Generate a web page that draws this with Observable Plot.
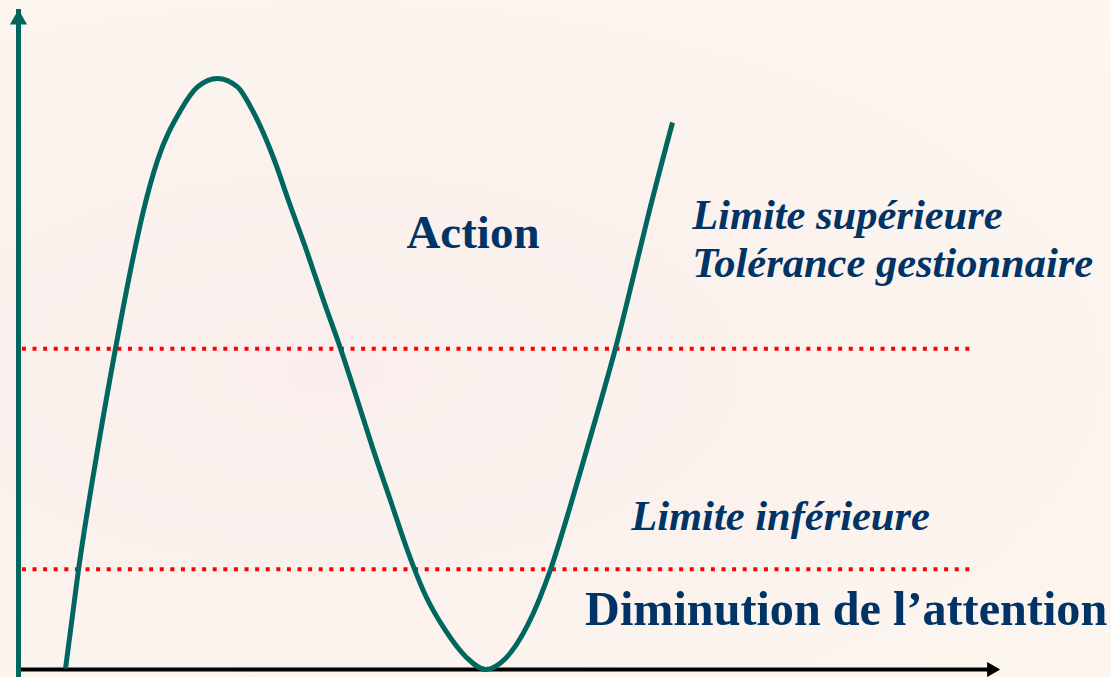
<!DOCTYPE html>
<html>
<head>
<meta charset="utf-8">
<script src="https://cdn.jsdelivr.net/npm/d3@7"></script>
<script src="https://cdn.jsdelivr.net/npm/@observablehq/plot@0.6"></script>
<style>
  html, body { margin: 0; padding: 0; }
  body {
    width: 1111px; height: 677px; overflow: hidden;
    background: radial-gradient(ellipse at 30% 55%, #f9eeeb 0%, #fbf2ee 45%, #fdf7ef 100%);
  }
  #chart svg { display: block; }
</style>
</head>
<body>
<div id="chart"></div>
<script>
// ---- data (time 0..100 along the horizontal axis, level 0..100 up the vertical axis)
const curveTime  = [4.79, 6.11, 8.04, 9.88, 11.61, 12.73, 14.15, 16.50, 18.23, 20.26, 22.30, 23.83, 26.07, 27.49, 29.33, 31.06, 32.79, 34.52, 36.15, 37.88, 39.61, 41.45, 43.48, 45.62, 47.56, 49.59, 51.83, 54.18, 56.21, 57.84, 59.37, 60.79, 62.02, 64.15, 66.60];
const curveLevel = [0.15, 15.15, 33.18, 48.64, 61.97, 69.55, 77.12, 84.70, 88.27, 89.55, 88.27, 84.70, 77.12, 71.06, 63.48, 55.91, 48.64, 40.76, 33.18, 25.61, 18.03, 11.21, 5.91, 1.82, 0, 1.67, 6.67, 15.15, 24.85, 33.18, 41.06, 48.64, 55.91, 68.94, 82.88];

const limitLevels = [48.6, 15.2];        // upper limit, lower limit
const limitSpan   = [0.4, 97.4];         // start / end of the limit lines

const axisTime  = [0, 100];              // horizontal axis extent
const axisLevel = [-1, 100];             // vertical axis extent

const boldLabels   = ["Action", "Diminution de l\u2019attention"];
const boldX        = [39.5, 57.7];
const boldY        = [63.9, 6.8];

const italicLabels = ["Limite supérieure", "Tolérance gestionnaire", "Limite inférieure"];
const italicX      = [68.6, 68.6, 62.4];
const italicY      = [66.8, 59.4, 21.2];

// ---- build tables
const curve = curveTime.map((t, i) => ({t, v: curveLevel[i]}));
const limits = limitLevels.map(v => ({v, x1: limitSpan[0], x2: limitSpan[1]}));
const bold = boldLabels.map((text, i) => ({text, x: boldX[i], y: boldY[i]}));
const italic = italicLabels.map((text, i) => ({text, x: italicX[i], y: italicY[i]}));

const teal = "#00675f";
const navy = "#003366";
const serif = "'Liberation Serif', 'Times New Roman', serif";

const chart = Plot.plot({
  width: 1111,
  height: 677,
  margin: 0,
  x: {domain: [0, 100], range: [18, 1000], axis: null},
  y: {domain: [0, 100], range: [669, 9], axis: null},
  style: {background: "transparent", overflow: "visible"},
  marks: [
    // limit lines
    Plot.ruleY(limits, {y: "v", x1: "x1", x2: "x2", stroke: "#ff0000", strokeWidth: 4, strokeDasharray: "4,6.6"}),
    // horizontal axis
    Plot.ruleY([axisLevel[0] + 1], {x1: axisTime[0], x2: axisTime[1], stroke: "#000", strokeWidth: 4, insetRight: 10}),
    Plot.dot([{x: axisTime[1], y: 0}], {x: "x", y: "y", symbol: "triangle", r: 5.6, rotate: 90, dx: -9, fill: "#000", stroke: "none"}),
    // vertical axis
    Plot.ruleX([axisTime[0]], {y1: axisLevel[0], y2: axisLevel[1], stroke: teal, strokeWidth: 5, insetTop: 12}),
    Plot.dot([{x: 0, y: axisLevel[1]}], {x: "x", y: "y", symbol: "triangle", r: 6.4, dy: 10, fill: teal, stroke: "none"}),
    // curve
    Plot.line(curve, {x: "t", y: "v", curve: "monotone-x", stroke: teal, strokeWidth: 5, strokeLinecap: "butt"}),
    // labels
    Plot.text(bold.slice(0, 1), {x: "x", y: "y", text: "text", textAnchor: "start", lineAnchor: "bottom",
      fill: navy, fontSize: 47, fontWeight: "bold", fontFamily: serif}),
    Plot.text(bold.slice(1), {x: "x", y: "y", text: "text", textAnchor: "start", lineAnchor: "bottom",
      fill: navy, fontSize: 48.2, fontWeight: "bold", fontFamily: serif}),
    Plot.text(italic, {x: "x", y: "y", text: "text", textAnchor: "start", lineAnchor: "bottom",
      fill: navy, fontSize: 42.5, fontWeight: "bold", fontStyle: "italic", fontFamily: serif})
  ]
});
document.getElementById("chart").append(chart);
</script>
</body>
</html>
